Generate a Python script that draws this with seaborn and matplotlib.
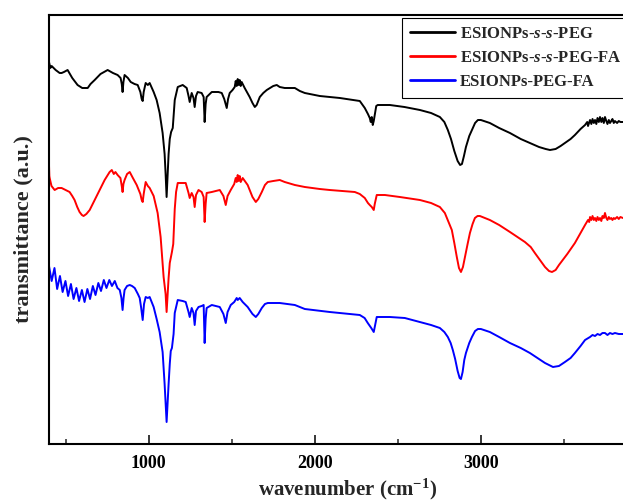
import numpy as np
import pandas as pd
import matplotlib
matplotlib.use("Agg")
import matplotlib.pyplot as plt
from matplotlib.ticker import MultipleLocator
import seaborn as sns

# ---------------- data ----------------
labels = ["ESIONPs-$s$-$s$-PEG", "ESIONPs-$s$-$s$-PEG-FA", "ESIONPs-PEG-FA"]
colors = ["black", "red", "blue"]
x_ticks = [1000, 2000, 3000]

# (wavenumber, transmittance in arbitrary units)
black_pts = [(400, 382), (408, 376), (416, 378), (440, 374), (464, 371), (476, 371), (490, 372),
             (512, 374), (540, 366), (572, 359), (600, 356), (633, 356), (650, 360), (675, 364),
             (710, 370), (753, 374), (785, 371), (813, 369), (831, 366), (838, 360), (843, 352),
             (848, 362), (855, 369), (875, 366), (892, 362), (915, 360), (934, 359), (950, 352),
             (958, 345), (964, 343), (970, 352), (982, 361), (995, 359), (1006, 361), (1030, 352),
             (1048, 344), (1066, 331), (1084, 311), (1096, 290), (1102, 270), (1108, 247),
             (1114, 268), (1120, 290), (1127, 305), (1135, 312), (1145, 316), (1157, 344),
             (1175, 357), (1205, 359), (1229, 356), (1240, 348), (1247, 342), (1259, 351),
             (1270, 346), (1277, 337), (1285, 348), (1295, 352), (1319, 351), (1331, 347),
             (1337, 322), (1343, 340), (1349, 347), (1380, 352), (1420, 352), (1440, 351),
             (1455, 345), (1470, 336), (1478, 345), (1488, 351), (1505, 354), (1518, 357),
             (1524, 363), (1530, 358), (1536, 365), (1542, 359), (1548, 364), (1554, 358),
             (1560, 362), (1578, 356), (1608, 347), (1625, 341), (1639, 337), (1650, 339),
             (1669, 347), (1690, 351), (1711, 354), (1730, 356), (1750, 358), (1771, 359),
             (1789, 357), (1819, 356), (1850, 356), (1880, 356), (1910, 353), (1940, 351),
             (2030, 348), (2151, 346), (2271, 343), (2301, 336), (2320, 330), (2331, 326),
             (2337, 322), (2343, 327), (2349, 319), (2355, 323), (2361, 329), (2370, 338),
             (2379, 339), (2452, 339), (2540, 337), (2633, 334), (2700, 331), (2753, 327),
             (2780, 322), (2801, 314), (2820, 305), (2840, 293), (2860, 283), (2875, 279),
             (2886, 280), (2898, 288), (2910, 297), (2930, 308), (2946, 314), (2965, 321),
             (2982, 324), (3000, 324), (3054, 321), (3110, 316), (3175, 311), (3240, 305),
             (3295, 301), (3350, 297), (3390, 295), (3416, 294), (3450, 295), (3480, 298),
             (3506, 301), (3540, 305), (3566, 309), (3600, 315), (3627, 319), (3640, 322),
             (3645, 318), (3657, 324), (3665, 320), (3672, 325), (3680, 321), (3687, 324),
             (3695, 320), (3702, 326), (3710, 322), (3717, 327), (3725, 322), (3732, 326),
             (3740, 321), (3747, 327), (3755, 323), (3762, 320), (3770, 324), (3777, 321),
             (3785, 323), (3792, 325), (3800, 321), (3807, 323), (3820, 321), (3830, 323),
             (3840, 322), (3855, 322)]

red_pts = [(400, 279), (402, 268), (404, 266), (415, 258), (434, 254), (455, 256), (476, 256),
           (500, 254), (524, 252), (540, 248), (554, 244), (570, 237), (584, 232), (598, 229),
           (608, 228), (625, 230), (645, 234), (675, 244), (705, 254), (735, 264), (765, 272),
           (778, 274), (790, 270), (800, 272), (813, 269), (830, 266), (838, 258), (843, 252),
           (848, 260), (855, 264), (870, 270), (886, 272), (905, 266), (928, 259), (950, 250),
           (958, 244), (964, 242), (970, 250), (982, 262), (995, 258), (1006, 256), (1030, 248),
           (1054, 231), (1072, 207), (1090, 167), (1102, 150), (1108, 132), (1114, 150),
           (1120, 166), (1127, 181), (1140, 192), (1148, 200), (1157, 235), (1165, 252),
           (1175, 261), (1205, 261), (1223, 261), (1240, 251), (1247, 246), (1259, 251),
           (1270, 247), (1277, 237), (1285, 249), (1300, 254), (1319, 252), (1331, 247),
           (1337, 222), (1343, 240), (1349, 251), (1380, 252), (1428, 254), (1450, 248),
           (1464, 239), (1475, 248), (1494, 254), (1515, 260), (1524, 266), (1530, 262),
           (1536, 269), (1542, 263), (1548, 268), (1554, 262), (1566, 266), (1596, 259),
           (1625, 247), (1645, 242), (1660, 245), (1681, 252), (1700, 259), (1717, 262),
           (1750, 263), (1789, 264), (1819, 262), (1880, 259), (1940, 257), (2030, 255),
           (2090, 254), (2241, 252), (2271, 250), (2301, 246), (2320, 241), (2331, 239),
           (2343, 237), (2355, 234), (2361, 240), (2373, 249), (2422, 249), (2512, 247),
           (2633, 244), (2700, 241), (2753, 237), (2783, 231), (2805, 222), (2825, 214),
           (2840, 201), (2855, 187), (2868, 176), (2880, 172), (2892, 177), (2904, 187),
           (2920, 200), (2934, 211), (2950, 220), (2964, 226), (2980, 228), (2994, 228),
           (3054, 224), (3110, 219), (3175, 212), (3220, 207), (3265, 202), (3300, 197),
           (3325, 191), (3360, 183), (3386, 177), (3410, 173), (3428, 172), (3450, 174),
           (3470, 179), (3520, 190), (3566, 201), (3600, 211), (3627, 219), (3645, 224),
           (3652, 222), (3657, 227), (3665, 224), (3672, 228), (3680, 224), (3687, 226),
           (3695, 223), (3702, 227), (3710, 224), (3717, 226), (3725, 223), (3732, 228),
           (3740, 226), (3747, 231), (3755, 226), (3762, 224), (3770, 227), (3777, 225),
           (3785, 226), (3792, 224), (3800, 226), (3807, 225), (3820, 227), (3830, 225),
           (3840, 227), (3855, 226)]

blue_pts = [(400, 178), (416, 163), (433, 176), (449, 155), (466, 168), (482, 152), (499, 163),
            (515, 148), (532, 160), (548, 145), (565, 156), (581, 143), (598, 154), (614, 142),
            (631, 155), (647, 145), (664, 158), (680, 149), (697, 161), (713, 153), (730, 164),
            (746, 156), (763, 164), (779, 158), (796, 163), (812, 156), (826, 154), (836, 146),
            (843, 134), (849, 146), (855, 154), (870, 158), (886, 159), (900, 158), (916, 156),
            (935, 150), (946, 146), (955, 136), (964, 124), (972, 140), (982, 147), (995, 146),
            (1006, 147), (1030, 137), (1048, 125), (1066, 112), (1084, 92), (1096, 60),
            (1102, 40), (1108, 22), (1114, 42), (1120, 60), (1127, 80), (1133, 93), (1140, 96),
            (1150, 110), (1157, 131), (1175, 144), (1205, 143), (1223, 142), (1240, 132),
            (1247, 127), (1259, 136), (1270, 131), (1277, 119), (1285, 133), (1300, 137),
            (1319, 138), (1331, 139), (1337, 101), (1343, 125), (1349, 136), (1380, 139),
            (1428, 137), (1450, 130), (1464, 121), (1475, 132), (1494, 139), (1515, 142),
            (1530, 146), (1536, 144), (1548, 146), (1566, 142), (1596, 137), (1625, 130),
            (1645, 127), (1660, 130), (1681, 136), (1700, 140), (1717, 141), (1789, 141),
            (1880, 139), (1940, 135), (2090, 132), (2271, 129), (2300, 126), (2319, 121),
            (2340, 116), (2355, 112), (2362, 118), (2373, 127), (2452, 127), (2542, 126),
            (2633, 122), (2700, 119), (2753, 116), (2780, 112), (2801, 107), (2818, 101),
            (2831, 94), (2845, 85), (2860, 73), (2872, 66), (2880, 65), (2890, 72), (2900, 84),
            (2910, 91), (2930, 101), (2946, 107), (2965, 113), (2982, 115), (3000, 115),
            (3054, 112), (3110, 107), (3175, 101), (3240, 96), (3295, 91), (3340, 86),
            (3386, 81), (3434, 77), (3470, 78), (3506, 82), (3540, 86), (3566, 91), (3600, 98),
            (3627, 104), (3657, 107), (3672, 109), (3687, 108), (3702, 110), (3717, 109),
            (3732, 111), (3747, 111), (3762, 109), (3777, 111), (3792, 110), (3807, 111),
            (3830, 110), (3855, 110)]

wn_black, t_black = map(list, zip(*black_pts))
wn_red, t_red = map(list, zip(*red_pts))
wn_blue, t_blue = map(list, zip(*blue_pts))

# ---------------- table ----------------
frames = []
for lab, wn, t in zip(labels, [wn_black, wn_red, wn_blue], [t_black, t_red, t_blue]):
    frames.append(pd.DataFrame({"wavenumber": wn, "transmittance": t, "sample": lab}))
df = pd.concat(frames, ignore_index=True)

# ---------------- style ----------------
sns.set_theme(style="white")
plt.rcParams["font.family"] = ["Liberation Serif", "DejaVu Serif"]
plt.rcParams["font.weight"] = "bold"
plt.rcParams["mathtext.fontset"] = "custom"
plt.rcParams["mathtext.rm"] = "Liberation Serif:bold"
plt.rcParams["mathtext.it"] = "Liberation Serif:italic:bold"
plt.rcParams["mathtext.bf"] = "Liberation Serif:bold"

fig = plt.figure(figsize=(6.23, 5.03), dpi=100)
ax = fig.add_axes([49 / 623, 59 / 503, 598 / 623, 429 / 503])

sns.lineplot(data=df, x="wavenumber", y="transmittance", hue="sample",
             palette=dict(zip(labels, colors)), estimator=None, sort=False,
             linewidth=1.4, ax=ax)

ax.set_xlim(400, 4000)
ax.set_ylim(0, 429)
ax.set_xticks(x_ticks)
ax.xaxis.set_minor_locator(MultipleLocator(500))
ax.set_yticks([])
ax.tick_params(axis="x", which="both", bottom=True, top=False)
ax.tick_params(axis="x", which="major", direction="in", length=6.5, width=1.1,
               labelsize=13, pad=8, colors="black")
ax.tick_params(axis="x", which="minor", direction="in", length=3.5, width=1.1)
for lbl in ax.get_xticklabels():
    lbl.set_fontweight("bold")

for side in ["top", "left", "bottom", "right"]:
    ax.spines[side].set_visible(True)
    ax.spines[side].set_color("black")
    ax.spines[side].set_linewidth(1.5)

ax.set_xlabel("wavenumber (cm$^{-1}$)", fontsize=15, fontweight="bold", labelpad=3)
ax.set_ylabel("transmittance (a.u.)", fontsize=16, fontweight="bold", labelpad=11)

handles, labs = ax.get_legend_handles_labels()
leg = ax.legend(handles, labs, loc="upper left",
                bbox_to_anchor=(402 / 623, 1 - 18 / 503), bbox_transform=fig.transFigure,
                prop={"family": "Liberation Serif", "weight": "bold", "size": 12},
                frameon=True, fancybox=False, edgecolor="black", framealpha=1,
                handlelength=2.7, handletextpad=0.3, labelspacing=0.5,
                borderpad=0.45, borderaxespad=0)
leg.get_frame().set_linewidth(0.8)
for line in leg.get_lines():
    line.set_linewidth(2)

fig.savefig("out.png", dpi=100)
